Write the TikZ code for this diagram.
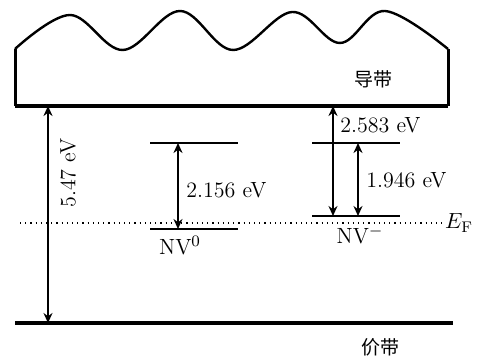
\documentclass[tikz,border=0pt]{standalone}
\usepackage{fontspec}
\usetikzlibrary{arrows.meta,positioning,calc}
\newfontfamily\cjk{Noto Sans CJK SC}
\tikzset{
  bandline/.style={line width=2pt},
  bandside/.style={line width=1.5pt},
  levelline/.style={line width=1pt},
  gaparrow/.style={<->,line width=1.1pt},
  elabel/.style={font=\fontsize{11}{13}\selectfont,inner sep=1pt},
  cnlabel/.style={font=\cjk\fontsize{9.5}{11}\selectfont,inner sep=1pt},
}

\begin{document}
\begin{tikzpicture}[x=0.5pt,y=0.5pt,>={Stealth[length=5pt,width=4.5pt]}]
\useasboundingbox (0,0) rectangle (477,356);
% conduction band
\coordinate (cbL) at (15,250);
\coordinate (cbR) at (448,250);
\draw[bandside] (15,307) -- (cbL);
\draw[bandside] (448,307) -- (cbR);
\draw[bandline] (cbL) -- (cbR);
\draw[line width=1.2pt] plot[smooth,tension=0.6] coordinates {(15,307) (70,341) (123,306) (180,345) (233,306) (292,344) (340,313) (385,345) (448,307)};
\node[cnlabel] (cb) at (373,277) {导带};
% valence band
\coordinate (vbL) at (15,33);
\coordinate (vbR) at (453,33);
\draw[bandline] (vbL) -- (vbR);
\node[cnlabel] (vb) at (380,9) {价带};
% Fermi level
\coordinate (efL) at (20,133);
\coordinate (efR) at (442,133);
\draw[dotted,line width=0.6pt] (efL) -- (efR);
\node[elabel] (ef) at (459,133) {$E_\mathrm{F}$};
% band gap
\coordinate (gapT) at (48,250);
\coordinate (gapB) at (48,33);
\draw[gaparrow,line width=0.9pt] (gapT) -- (gapB);
\node[elabel,rotate=90] (gap) at (68,183) {5.47 eV};
% NV0
\coordinate (n0up) at (150,213);
\coordinate (n0dn) at (150,127);
\draw[levelline] (n0up) -- ++(88,0);
\draw[levelline] (n0dn) -- ++(88,0);
\coordinate (n0a) at (178,213);
\coordinate (n0b) at (178,127);
\draw[gaparrow] (n0a) -- (n0b);
\node[elabel,anchor=west] (e0) at (184,166) {2.156 eV};
\node[elabel] (nv0) at (180,110) {NV$^0$};
% NV-
\coordinate (nmup) at (312,213);
\coordinate (nmdn) at (312,140);
\draw[levelline] (nmup) -- ++(88,0);
\draw[levelline] (nmdn) -- ++(88,0);
\coordinate (nma) at (333,250);
\coordinate (nmb) at (333,140);
\draw[gaparrow] (nma) -- (nmb);
\node[elabel,anchor=west] (e1) at (338,231) {2.583 eV};
\coordinate (nmc) at (358,213);
\coordinate (nmd) at (358,140);
\draw[gaparrow] (nmc) -- (nmd);
\node[elabel,anchor=west] (e2) at (364,176) {1.946 eV};
\node[elabel] (nvm) at (360,121) {NV$^-$};
\end{tikzpicture}
\end{document}
